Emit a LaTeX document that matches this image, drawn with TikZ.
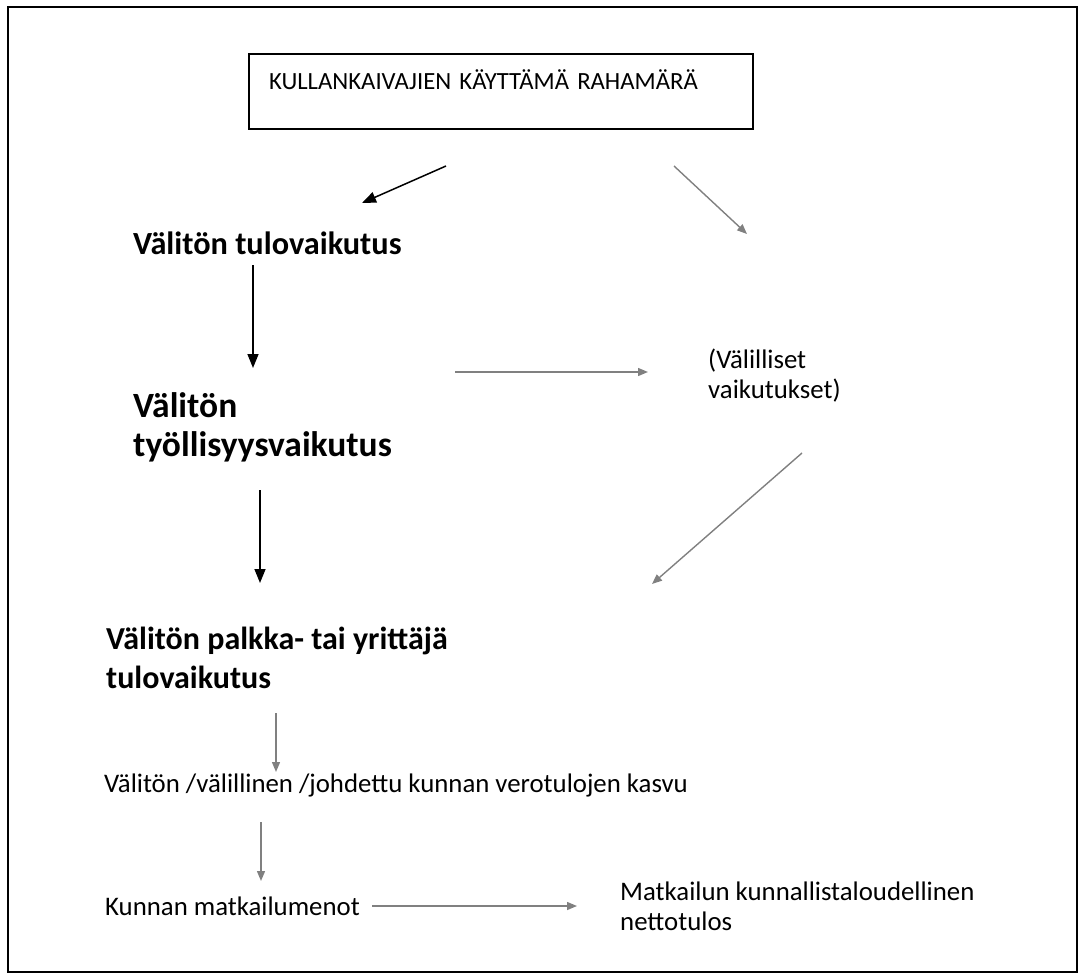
\documentclass[tikz,border=0pt]{standalone}
\usepackage{fontspec}
\setmainfont{Carlito}
\usetikzlibrary{arrows.meta}
\definecolor{arrgray}{RGB}{128,128,128}
\begin{document}
\begin{tikzpicture}[x=1pt,y=-1pt,
  reg/.style={font=\fontsize{26.8}{30}\selectfont, inner sep=0pt, anchor=base west, align=left},
  bld/.style={font=\bfseries\fontsize{34}{39}\selectfont, inner sep=0pt, anchor=base west, align=left},
  blkarrow/.style={line width=1.5pt, -{Triangle[length=14pt,width=11pt]}},
  gryarrow/.style={draw=arrgray, line width=1.4pt, -{Triangle[length=10pt,width=8pt]}},
  topbox/.style={draw, line width=2pt, anchor=north west, font=\fontsize{24.7}{30}\selectfont,
    text width=464pt, inner xsep=20pt, inner ysep=0pt, text height=35pt, text depth=40pt, align=left}]
\useasboundingbox (0,0) rectangle (1085,980);
\draw[line width=2pt] (8,7) rectangle (1077,972);

\node[topbox] (money) at (248,53) {KULLANKAIVAJIEN KÄYTTÄMÄ RAHAMÄRÄ};

% multi-line nodes: base anchor = baseline of last line
\node[bld, font=\bfseries\fontsize{32.3}{39}\selectfont] (tulo) at (133,254) {Välitön tulovaikutus};
\node[bld, font=\bfseries\fontsize{35.5}{39}\selectfont] (tyo) at (133,456) {Välitön\\työllisyysvaikutus};
\node[bld, font=\bfseries\fontsize{32}{39}\selectfont] (palkka) at (106,688) {Välitön palkka- tai yrittäjä\\tulovaikutus};
\node[reg] (valill) at (708,398) {(Välilliset\\vaikutukset)};
\node[reg] (vero) at (104,792) {Välitön /välillinen /johdettu kunnan verotulojen kasvu};
\node[reg] (menot) at (105,915) {Kunnan matkailumenot};
\node[reg] (netto) at (620,930) {Matkailun kunnallistaloudellinen\\nettotulos};

\coordinate (a1s) at (446,166); \coordinate (a1e) at (362,203);
\coordinate (a2s) at (674,166); \coordinate (a2e) at (747,234);
\coordinate (a3s) at (253,265); \coordinate (a3e) at (253,368);
\coordinate (a4s) at (455,372); \coordinate (a4e) at (648,372);
\coordinate (a5s) at (802,453); \coordinate (a5e) at (652,584);
\coordinate (a6s) at (260,490); \coordinate (a6e) at (260,583);
\coordinate (a7s) at (276,713); \coordinate (a7e) at (276,772);
\coordinate (a8s) at (261,822); \coordinate (a8e) at (261,881);
\coordinate (a9s) at (372,906); \coordinate (a9e) at (577,906);

\draw[blkarrow] (a1s) -- (a1e);
\draw[gryarrow] (a2s) -- (a2e);
\draw[blkarrow] (a3s) -- (a3e);
\draw[gryarrow] (a4s) -- (a4e);
\draw[gryarrow] (a5s) -- (a5e);
\draw[blkarrow] (a6s) -- (a6e);
\draw[gryarrow] (a7s) -- (a7e);
\draw[gryarrow] (a8s) -- (a8e);
\draw[gryarrow] (a9s) -- (a9e);
\end{tikzpicture}
\end{document}
